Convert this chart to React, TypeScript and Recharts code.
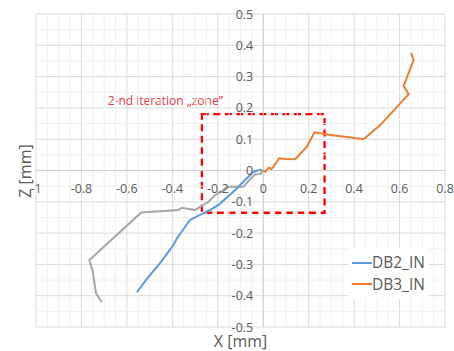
import { LineChart, Line, XAxis, YAxis, CartesianGrid, ReferenceLine, ReferenceArea, Legend } from 'recharts'

document.body.style.margin = '0'

// DB1_IN (grey, no legend entry)
const DB1_X = [-0.711, -0.736, -0.75, -0.765, -0.537, -0.373, -0.358, -0.3, -0.241, -0.211, -0.153, -0.087, -0.06, -0.035, -0.013, 0.0]
const DB1_Y = [-0.42, -0.392, -0.323, -0.286, -0.134, -0.126, -0.119, -0.126, -0.1, -0.078, -0.052, -0.052, -0.03, -0.012, -0.011, 0.0]

const DB2_X = [-0.556, -0.512, -0.454, -0.395, -0.38, -0.322, -0.285, -0.233, -0.197, -0.123, -0.065, -0.043, -0.013, -0.006]
const DB2_Y = [-0.389, -0.346, -0.296, -0.238, -0.217, -0.158, -0.144, -0.126, -0.11, -0.062, -0.02, -0.004, 0.002, 0.0]

const DB3_X = [0.0, 0.009, 0.023, 0.035, 0.045, 0.07, 0.098, 0.141, 0.192, 0.226, 0.273, 0.442, 0.515, 0.64, 0.618, 0.662, 0.651]
const DB3_Y = [0.0, -0.004, 0.009, 0.005, 0.012, 0.039, 0.037, 0.036, 0.076, 0.122, 0.116, 0.1, 0.145, 0.244, 0.27, 0.353, 0.376]

const X_TICKS = [-1, -0.8, -0.6, -0.4, -0.2, 0, 0.2, 0.4, 0.6, 0.8]
const Y_TICKS = [-0.5, -0.4, -0.3, -0.2, -0.1, 0, 0.1, 0.2, 0.3, 0.4, 0.5]

// 2-nd iteration zone box
const ZONE_X = [-0.27, 0.27]
const ZONE_Y = [-0.135, 0.18]

const X_MIN = -1, X_MAX = 0.8, Y_MIN = -0.5, Y_MAX = 0.5
const W = 454, H = 351
const M = { top: 14, right: 9, bottom: 24, left: 36 }
const AXIS_PX = 1
const PLOT_W = W - M.left - M.right
const PLOT_H = H - M.top - M.bottom
const ZERO_X = M.left + PLOT_W * (0 - X_MIN) / (X_MAX - X_MIN)
const ZERO_Y = M.top + PLOT_H * (Y_MAX - 0) / (Y_MAX - Y_MIN)

const FONT = '"Open Sans", "Noto Sans", sans-serif'
const TEXT = '#595959'

const toPoints = (xs: number[], ys: number[]) => xs.map((x, i) => ({ x, y: ys[i] }))
const db1 = toPoints(DB1_X, DB1_Y)
const db2 = toPoints(DB2_X, DB2_Y)
const db3 = toPoints(DB3_X, DB3_Y)

// minor grid every 0.05, skipping the major positions
const minorX = Array.from({ length: 37 }, (_, i) => +(X_MIN + i * 0.05).toFixed(2)).filter(v => Math.abs(v * 5 - Math.round(v * 5)) > 1e-6)
const minorY = Array.from({ length: 21 }, (_, i) => +(Y_MIN + i * 0.05).toFixed(2)).filter(v => Math.abs(v * 10 - Math.round(v * 10)) > 1e-6)

function XTick(props: any) {
    return (
        <text x={props.x} y={ZERO_Y + 18} textAnchor="middle" dominantBaseline="central" fontSize={12.5} fontFamily={FONT} fill={TEXT}>
            {String(props.payload.value)}
        </text>
    )
}

function YTick(props: any) {
    return (
        <text x={ZERO_X - 10} y={props.y} textAnchor="end" dominantBaseline="central" fontSize={12.5} fontFamily={FONT} fill={TEXT}>
            {String(props.payload.value)}
        </text>
    )
}

function ZoneLabel(props: any) {
    const vb = props.viewBox
    return (
        <text x={vb.x + 21} y={vb.y - 9} textAnchor="end" fontSize={12} fontFamily={FONT} fill="#E03A3E">
            2-nd iteration „zone”
        </text>
    )
}

function LegendBox(props: any) {
    return (
        <div style={{ background: '#fff', width: 80, height: 51, paddingTop: 4, paddingLeft: 3, boxSizing: 'border-box' }}>
            {(props.payload || []).filter((p: any) => p.type !== 'none').map((p: any) => (
                <div key={p.value} style={{ display: 'flex', alignItems: 'center', height: 21.6 }}>
                    <span style={{ display: 'inline-block', width: 20, height: 2, background: p.color }} />
                    <span style={{ fontSize: 15.5, fontFamily: FONT, color: TEXT, lineHeight: '21.6px' }}>{p.value}</span>
                </div>
            ))}
        </div>
    )
}

export default function App() {
    return (
        <div style={{ position: 'relative', width: W, height: H, fontFamily: FONT }}>
            <LineChart width={W} height={H} margin={{ ...M, left: M.left - AXIS_PX, bottom: M.bottom - AXIS_PX }}>
                {minorX.map(v => (
                    <ReferenceLine key={`mx${v}`} x={v} stroke="#f0f0f0" strokeWidth={1} />
                ))}
                {minorY.map(v => (
                    <ReferenceLine key={`my${v}`} y={v} stroke="#f0f0f0" strokeWidth={1} />
                ))}
                <CartesianGrid stroke="#d9d9d9" strokeWidth={1} />
                <XAxis
                    type="number"
                    dataKey="x"
                    domain={[X_MIN, X_MAX]}
                    ticks={X_TICKS}
                    interval={0}
                    allowDataOverflow
                    height={AXIS_PX}
                    axisLine={false}
                    tickLine={false}
                    tick={<XTick />}
                />
                <YAxis
                    type="number"
                    domain={[Y_MIN, Y_MAX]}
                    ticks={Y_TICKS}
                    interval={0}
                    allowDataOverflow
                    width={AXIS_PX}
                    axisLine={false}
                    tickLine={false}
                    tick={<YTick />}
                />
                <ReferenceLine x={0} stroke="#cfcfcf" />
                <ReferenceLine y={0} stroke="#cfcfcf" />
                <Line data={db1} dataKey="y" name="DB1_IN" stroke="#A5A5A5" strokeWidth={2} dot={false} legendType="none" isAnimationActive={false} />
                <Line data={db2} dataKey="y" name="DB2_IN" stroke="#5B9BD5" strokeWidth={2} dot={false} isAnimationActive={false} />
                <Line data={db3} dataKey="y" name="DB3_IN" stroke="#ED7D31" strokeWidth={2} dot={false} isAnimationActive={false} />
                <ReferenceArea
                    x1={ZONE_X[0]}
                    x2={ZONE_X[1]}
                    y1={ZONE_Y[0]}
                    y2={ZONE_Y[1]}
                    fill="none"
                    fillOpacity={0}
                    stroke="#FF0000"
                    strokeWidth={2.3}
                    strokeDasharray="7 4.5"
                    label={<ZoneLabel />}
                />
                <Legend
                    layout="vertical"
                    align="center"
                    verticalAlign="middle"
                    content={<LegendBox />}
                    wrapperStyle={{ left: 349, top: 248, width: 80, height: 51 }}
                />
            </LineChart>
            <div style={{ position: 'absolute', left: M.left, width: PLOT_W, top: 332, textAlign: 'center', fontSize: 16, color: TEXT, lineHeight: '18px' }}>
                X [mm]
            </div>
            <div
                style={{
                    position: 'absolute',
                    left: 25,
                    top: M.top + PLOT_H / 2,
                    transform: 'translate(-50%, -50%) rotate(-90deg)',
                    fontSize: 16,
                    color: TEXT,
                    whiteSpace: 'nowrap',
                    lineHeight: '20px',
                }}
            >
                Z [mm]
            </div>
        </div>
    )
}
